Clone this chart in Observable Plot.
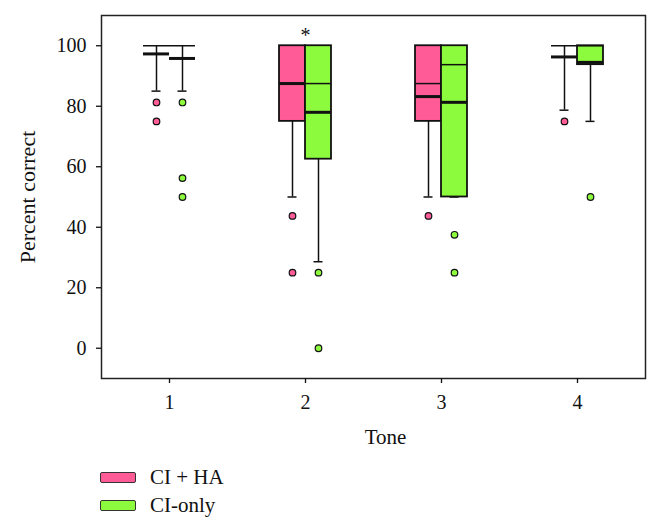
<!DOCTYPE html>
<html>
<head>
<meta charset="utf-8">
<script src="https://cdn.jsdelivr.net/npm/d3@7"></script>
<script src="https://cdn.jsdelivr.net/npm/@observablehq/plot@0.6"></script>
<style>
  html, body { margin: 0; padding: 0; background: #fff; }
  #chart { width: 660px; }
  .legend { padding-top: 3px; padding-left: 100px; font-family: 'Liberation Serif', serif; font-size: 21px; color: #111; }
  .legend .row { height: 28px; display: flex; align-items: center; }
  .legend .sw { width: 34px; height: 9px; border: 1.5px solid #333; border-radius: 2px; margin-right: 14px; }
</style>
</head>
<body>
<div id="chart"></div>
<script>
// ---- data ----
const tones = [1, 2, 3, 4];
const groups = ["CI + HA", "CI-only"];

// CI + HA
const haQ1 = [100, 75, 75, 100];
const haQ3 = [100, 100, 100, 100];
const haMedian = [100, 87.5, 87.5, 100];
const haMean = [97.3, 87.5, 83.2, 96.3];
const haLow = [85, 50, 50, 78.7];
const haHigh = [100, 100, 100, 100];
const haOutliers = [[81.25, 75], [43.75, 25], [43.75], [75]];

// CI-only
const ciQ1 = [100, 62.5, 50, 93.75];
const ciQ3 = [100, 100, 100, 100];
const ciMedian = [100, 87.5, 93.75, 100];
const ciMean = [95.8, 78, 81.3, 94.5];
const ciLow = [85, 28.6, 50, 75];
const ciHigh = [100, 100, 100, 100];
const ciOutliers = [[81.25, 56.25, 50], [25, 0], [37.5, 25], [50]];

const significantTones = [2];
const yTicks = [0, 20, 40, 60, 80, 100];

// ---- build tables ----
const stats = tones.flatMap((t, i) => [
  {tone: t, group: groups[0], q1: haQ1[i], q3: haQ3[i], median: haMedian[i], mean: haMean[i], lo: haLow[i], hi: haHigh[i]},
  {tone: t, group: groups[1], q1: ciQ1[i], q3: ciQ3[i], median: ciMedian[i], mean: ciMean[i], lo: ciLow[i], hi: ciHigh[i]}
]);
const outliers = tones.flatMap((t, i) => [
  ...haOutliers[i].map(v => ({tone: t, group: groups[0], value: v})),
  ...ciOutliers[i].map(v => ({tone: t, group: groups[1], value: v}))
]);

const pink = "#ff5b97";
const green = "#8dfb3d";
const ink = "#111";

const chart = Plot.plot({
  width: 660,
  height: 460,
  marginLeft: 100,
  marginRight: 15,
  marginTop: 15,
  marginBottom: 82,
  style: {fontFamily: "'Liberation Serif', serif", fontSize: "20px", color: ink, background: "#fff"},
  fx: {domain: tones, padding: 0, label: null},
  x: {domain: groups, paddingInner: 0, paddingOuter: 1.53, axis: null},
  y: {domain: [-10, 110], label: null},
  color: {domain: groups, range: [pink, green]},
  marks: [
    Plot.frame({facet: "super", stroke: "#222", strokeWidth: 1.5}),
    Plot.axisY({ticks: yTicks, tickSize: 5, tickPadding: 10, fontSize: 20, strokeWidth: 1.3, label: null}),
    Plot.axisFx({anchor: "bottom", tickSize: 5, tickPadding: 11, fontSize: 20, strokeWidth: 1.3, label: null}),
    // whiskers
    Plot.ruleX(stats, {fx: "tone", x: "group", y1: "lo", y2: "q1", stroke: ink, strokeWidth: 1.5}),
    Plot.ruleX(stats, {fx: "tone", x: "group", y1: "q3", y2: "hi", stroke: ink, strokeWidth: 1.5}),
    Plot.tickY(stats, {fx: "tone", x: "group", y: "lo", stroke: ink, strokeWidth: 1.5, insetLeft: 8.5, insetRight: 8.5}),
    // boxes
    Plot.barY(stats, {fx: "tone", x: "group", y1: "q1", y2: "q3", fill: "group", stroke: ink, strokeWidth: 1.8}),
    // median (thin) and mean (thick)
    Plot.tickY(stats, {fx: "tone", x: "group", y: "median", stroke: ink, strokeWidth: 1.5}),
    Plot.tickY(stats, {fx: "tone", x: "group", y: "mean", stroke: ink, strokeWidth: 3}),
    // outliers
    Plot.dot(outliers, {fx: "tone", x: "group", y: "value", fill: "group", stroke: ink, strokeWidth: 1.2, r: 3.3}),
    // significance marker
    Plot.text(significantTones, {fx: d => d, frameAnchor: "top", dy: 26, lineAnchor: "bottom", textAnchor: "middle", text: () => "*", fontSize: 20}),
    // axis titles
    Plot.text(["Tone"], {facet: "super", frameAnchor: "bottom", dx: 12, dy: 65, lineAnchor: "bottom", textAnchor: "middle", text: d => d, fontSize: 21}),
    Plot.text(["Percent correct"], {facet: "super", frameAnchor: "left", dx: -74, rotate: -90, lineAnchor: "middle", textAnchor: "middle", text: d => d, fontSize: 22})
  ]
});

const root = document.getElementById("chart");
root.appendChild(chart);

const legend = document.createElement("div");
legend.className = "legend";
groups.forEach((g, i) => {
  const row = document.createElement("div");
  row.className = "row";
  const sw = document.createElement("div");
  sw.className = "sw";
  sw.style.background = [pink, green][i];
  const label = document.createElement("span");
  label.textContent = g;
  row.appendChild(sw);
  row.appendChild(label);
  legend.appendChild(row);
});
root.appendChild(legend);
</script>
</body>
</html>
